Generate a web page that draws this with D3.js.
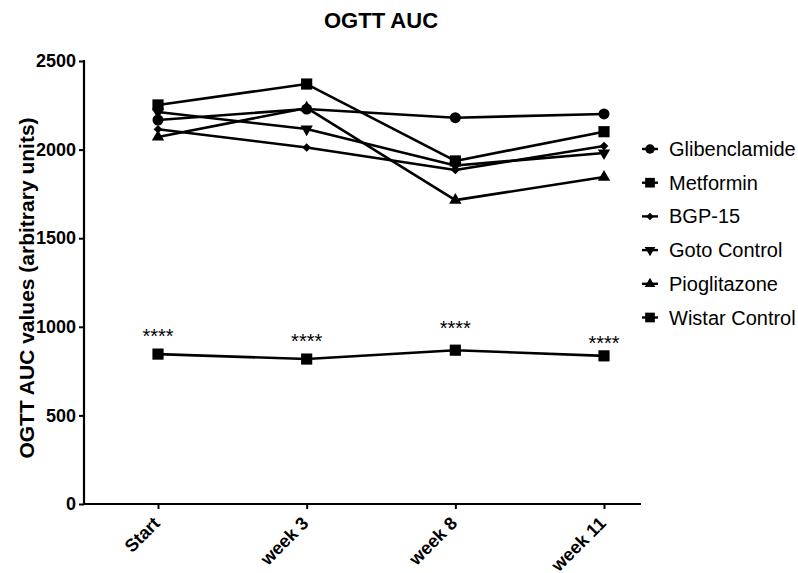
<!DOCTYPE html>
<html lang="en">
<head>
<meta charset="utf-8">
<title>OGTT AUC</title>
<script src="https://d3js.org/d3.v7.min.js"></script>
<style>
  body { margin: 0; background: #fff; }
  svg { font-family: "Liberation Sans", Arial, sans-serif; }
</style>
</head>
<body>
<script>
// data
var categories = ["Start", "week 3", "week 8", "week 11"];
var glibenclamide = [2167, 2229, 2180, 2201];
var metformin = [2252, 2370, 1936, 2101];
var bgp15 = [2115, 2012, 1885, 2020];
var gotoControl = [2212, 2116, 1910, 1981];
var pioglitazone = [2071, 2235, 1715, 1845];
var wistarControl = [846, 818, 868, 836];
// baseline height (in data units) of the "****" marks above Wistar Control
var starLevels = [909, 880, 954, 869];
var yTicks = [0, 500, 1000, 1500, 2000, 2500];

var series = [
  { name: "Glibenclamide", values: glibenclamide, shape: "circle" },
  { name: "Metformin", values: metformin, shape: "square" },
  { name: "BGP-15", values: bgp15, shape: "diamond" },
  { name: "Goto Control", values: gotoControl, shape: "down" },
  { name: "Pioglitazone", values: pioglitazone, shape: "up" },
  { name: "Wistar Control", values: wistarControl, shape: "square" }
];

var w = 798, h = 573;
var plotLeft = 84, plotRight = 641, plotTop = 61, plotBottom = 504;

var svg = d3.select("body").append("svg")
  .attr("width", w)
  .attr("height", h);

var x = d3.scalePoint()
  .domain(categories)
  .range([158, 604]);

var y = d3.scaleLinear()
  .domain([0, 2500])
  .range([plotBottom, plotTop]);

function symbolPath(shape, k) {
  k = k || 1;
  if (shape === "circle") return d3.symbol(d3.symbolCircle, 95 * k)();
  if (shape === "square") return d3.symbol(d3.symbolSquare, 125 * k)();
  if (shape === "diamond") return d3.symbol(d3.symbolDiamond2, 48 * k)();
  return d3.symbol(d3.symbolTriangle, 66 * k)();
}
function symbolTransform(shape, px, py) {
  var t = "translate(" + px + "," + py + ")";
  if (shape === "down") t += " rotate(180)";
  return t;
}

// title
svg.append("text")
  .attr("x", 381)
  .attr("y", 28)
  .attr("text-anchor", "middle")
  .style("font-size", "22px")
  .style("font-weight", "bold")
  .text("OGTT AUC");

// y axis
var yAxis = svg.append("g")
  .attr("transform", "translate(" + plotLeft + ",0)")
  .call(d3.axisLeft(y).tickValues(yTicks).tickSize(5).tickPadding(3).tickFormat(d3.format("d")));
yAxis.select(".domain").remove();
yAxis.append("line")
  .attr("x1", 0).attr("x2", 0)
  .attr("y1", y(2500) - 1).attr("y2", plotBottom + 1)
  .attr("stroke", "#000").attr("stroke-width", 2.2);
yAxis.selectAll(".tick line").attr("stroke-width", 2);
yAxis.selectAll(".tick text")
  .style("font-size", "18px")
  .style("font-weight", "bold")
  .attr("fill", "#000");

svg.append("text")
  .attr("transform", "translate(34,288) rotate(-90)")
  .attr("text-anchor", "middle")
  .style("font-size", "21px")
  .style("font-weight", "bold")
  .text("OGTT AUC values (arbitrary units)");

// x axis
var xAxis = svg.append("g")
  .attr("transform", "translate(0," + plotBottom + ")")
  .call(d3.axisBottom(x).tickSize(5).tickPadding(4));
xAxis.select(".domain").remove();
xAxis.append("line")
  .attr("x1", plotLeft - 1).attr("x2", plotRight)
  .attr("y1", 0).attr("y2", 0)
  .attr("stroke", "#000").attr("stroke-width", 2.2);
xAxis.selectAll(".tick line").attr("stroke-width", 2);
xAxis.selectAll(".tick text")
  .style("font-size", "18px")
  .style("font-weight", "bold")
  .attr("fill", "#000")
  .attr("text-anchor", "end")
  .attr("x", 0)
  .attr("y", 0)
  .attr("dx", 0)
  .attr("dy", "0.35em")
  .attr("transform", "translate(-2,16) rotate(-45)");

// lines
var line = d3.line()
  .x(function(d, i) { return x(categories[i]); })
  .y(function(d) { return y(d); });

var g = svg.append("g");

g.selectAll("path.series")
  .data(series)
  .enter()
  .append("path")
  .attr("class", "series")
  .attr("d", function(d) { return line(d.values); })
  .attr("fill", "none")
  .attr("stroke", "#000")
  .attr("stroke-width", 2.6)
  .attr("stroke-linejoin", "round");

series.forEach(function(s) {
  g.selectAll(null)
    .data(s.values)
    .enter()
    .append("path")
    .attr("d", symbolPath(s.shape))
    .attr("transform", function(d, i) { return symbolTransform(s.shape, x(categories[i]), y(d)); })
    .attr("fill", "#000");
});

// significance marks
svg.selectAll("text.stars")
  .data(starLevels)
  .enter()
  .append("text")
  .attr("class", "stars")
  .attr("x", function(d, i) { return x(categories[i]); })
  .attr("y", function(d) { return y(d); })
  .attr("text-anchor", "middle")
  .style("font-size", "20px")
  .text("****");

// legend
var legend = svg.append("g")
  .attr("transform", "translate(650,149)");

var item = legend.selectAll("g")
  .data(series)
  .enter()
  .append("g")
  .attr("transform", function(d, i) { return "translate(0," + (i * 33.7) + ")"; });

item.append("line")
  .attr("x1", -8).attr("x2", 8)
  .attr("stroke", "#000")
  .attr("stroke-width", 2.4);

item.append("path")
  .attr("d", function(d) { return symbolPath(d.shape, 0.75); })
  .attr("transform", function(d) { return symbolTransform(d.shape, 0, 0); })
  .attr("fill", "#000");

item.append("text")
  .attr("x", 19)
  .attr("dy", "0.35em")
  .style("font-size", "20px")
  .text(function(d) { return d.name; });
</script>
</body>
</html>
